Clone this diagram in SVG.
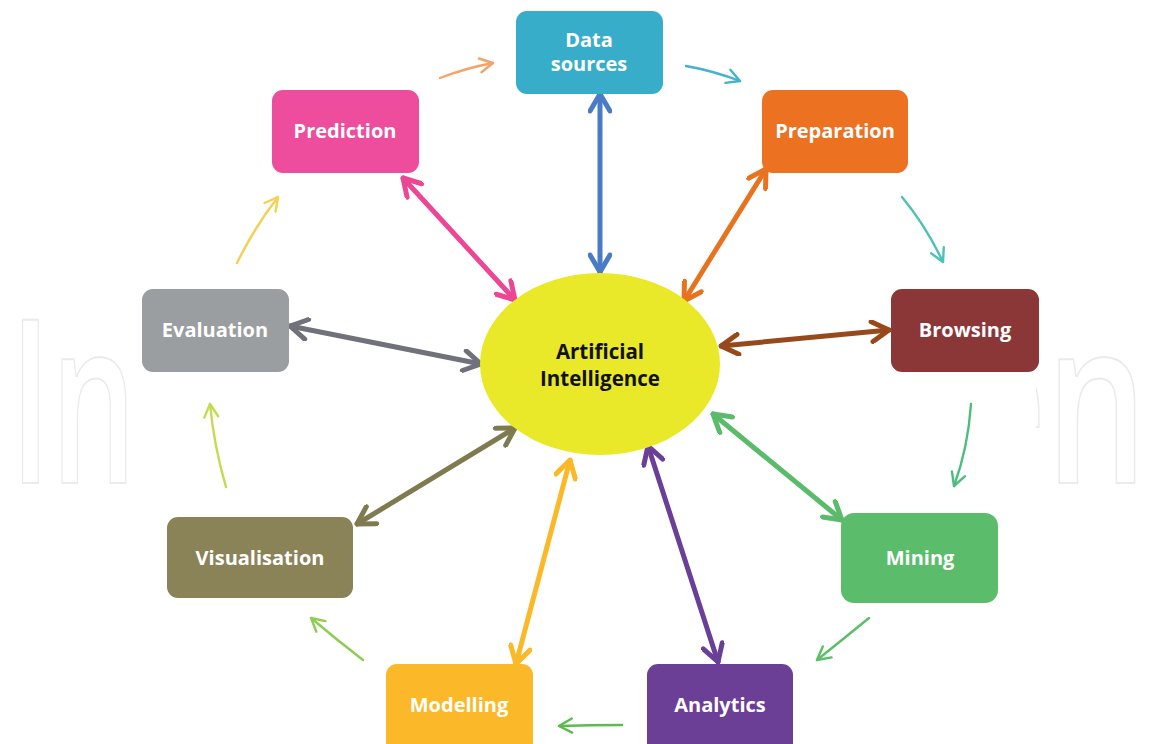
<svg xmlns="http://www.w3.org/2000/svg" width="1166" height="744" viewBox="0 0 1166 744">
<style>
.lbl{font-family:"Open Sans","Liberation Sans",sans-serif;font-weight:700;font-size:20px;fill:#ffffff;text-anchor:middle}
.ai{font-family:"Open Sans","Liberation Sans",sans-serif;font-weight:700;font-size:20.5px;fill:#111111;text-anchor:middle}
.thick{fill:none;stroke-width:5;stroke-linecap:round}
.thin{fill:none;stroke-width:2.4;stroke-linecap:round}
.wm{font-family:"Open Sans","Liberation Sans",sans-serif;font-weight:600;font-size:228px;fill:none;stroke:#ebebeb;stroke-width:2}
</style>
<defs>
<clipPath id="wmRight"><rect x="1036" y="300" width="130" height="200"/></clipPath>
<marker id="mBlue" viewBox="0 0 24 24" refX="22" refY="12" markerWidth="24" markerHeight="24" markerUnits="userSpaceOnUse" orient="auto-start-reverse"><path d="M5,2 L22,12 L5,22" fill="none" stroke="#4a7cc6" stroke-width="5" stroke-linecap="round" stroke-linejoin="round"/></marker>
<marker id="mPink" viewBox="0 0 24 24" refX="22" refY="12" markerWidth="24" markerHeight="24" markerUnits="userSpaceOnUse" orient="auto-start-reverse"><path d="M5,2 L22,12 L5,22" fill="none" stroke="#ec4694" stroke-width="5" stroke-linecap="round" stroke-linejoin="round"/></marker>
<marker id="mOrange" viewBox="0 0 24 24" refX="22" refY="12" markerWidth="24" markerHeight="24" markerUnits="userSpaceOnUse" orient="auto-start-reverse"><path d="M5,2 L22,12 L5,22" fill="none" stroke="#e8731f" stroke-width="5" stroke-linecap="round" stroke-linejoin="round"/></marker>
<marker id="mBrown" viewBox="0 0 24 24" refX="22" refY="12" markerWidth="24" markerHeight="24" markerUnits="userSpaceOnUse" orient="auto-start-reverse"><path d="M5,2 L22,12 L5,22" fill="none" stroke="#98491c" stroke-width="5" stroke-linecap="round" stroke-linejoin="round"/></marker>
<marker id="mGray" viewBox="0 0 24 24" refX="22" refY="12" markerWidth="24" markerHeight="24" markerUnits="userSpaceOnUse" orient="auto-start-reverse"><path d="M5,2 L22,12 L5,22" fill="none" stroke="#70717a" stroke-width="5" stroke-linecap="round" stroke-linejoin="round"/></marker>
<marker id="mGreen" viewBox="0 0 24 24" refX="22" refY="12" markerWidth="24" markerHeight="24" markerUnits="userSpaceOnUse" orient="auto-start-reverse"><path d="M5,2 L22,12 L5,22" fill="none" stroke="#5abb6a" stroke-width="5" stroke-linecap="round" stroke-linejoin="round"/></marker>
<marker id="mOlive" viewBox="0 0 24 24" refX="22" refY="12" markerWidth="24" markerHeight="24" markerUnits="userSpaceOnUse" orient="auto-start-reverse"><path d="M5,2 L22,12 L5,22" fill="none" stroke="#7f7a50" stroke-width="5" stroke-linecap="round" stroke-linejoin="round"/></marker>
<marker id="mGold" viewBox="0 0 24 24" refX="22" refY="12" markerWidth="24" markerHeight="24" markerUnits="userSpaceOnUse" orient="auto-start-reverse"><path d="M5,2 L22,12 L5,22" fill="none" stroke="#fbb829" stroke-width="5" stroke-linecap="round" stroke-linejoin="round"/></marker>
<marker id="mPurple" viewBox="0 0 24 24" refX="22" refY="12" markerWidth="24" markerHeight="24" markerUnits="userSpaceOnUse" orient="auto-start-reverse"><path d="M5,2 L22,12 L5,22" fill="none" stroke="#6a3f97" stroke-width="5" stroke-linecap="round" stroke-linejoin="round"/></marker>
<marker id="t1" viewBox="0 0 18 18" refX="16" refY="9" markerWidth="18" markerHeight="18" markerUnits="userSpaceOnUse" orient="auto"><path d="M3,2 L16,9 L3,16" fill="none" stroke="#f4a46a" stroke-width="2.4" stroke-linecap="round" stroke-linejoin="round"/></marker>
<marker id="t2" viewBox="0 0 18 18" refX="16" refY="9" markerWidth="18" markerHeight="18" markerUnits="userSpaceOnUse" orient="auto"><path d="M3,2 L16,9 L3,16" fill="none" stroke="#45b3ca" stroke-width="2.4" stroke-linecap="round" stroke-linejoin="round"/></marker>
<marker id="t3" viewBox="0 0 18 18" refX="16" refY="9" markerWidth="18" markerHeight="18" markerUnits="userSpaceOnUse" orient="auto"><path d="M3,2 L16,9 L3,16" fill="none" stroke="#4cc2b4" stroke-width="2.4" stroke-linecap="round" stroke-linejoin="round"/></marker>
<marker id="t4" viewBox="0 0 18 18" refX="16" refY="9" markerWidth="18" markerHeight="18" markerUnits="userSpaceOnUse" orient="auto"><path d="M3,2 L16,9 L3,16" fill="none" stroke="#4dbd7e" stroke-width="2.4" stroke-linecap="round" stroke-linejoin="round"/></marker>
<marker id="t5" viewBox="0 0 18 18" refX="16" refY="9" markerWidth="18" markerHeight="18" markerUnits="userSpaceOnUse" orient="auto"><path d="M3,2 L16,9 L3,16" fill="none" stroke="#5cbe68" stroke-width="2.4" stroke-linecap="round" stroke-linejoin="round"/></marker>
<marker id="t6" viewBox="0 0 18 18" refX="16" refY="9" markerWidth="18" markerHeight="18" markerUnits="userSpaceOnUse" orient="auto"><path d="M3,2 L16,9 L3,16" fill="none" stroke="#5dbb50" stroke-width="2.4" stroke-linecap="round" stroke-linejoin="round"/></marker>
<marker id="t7" viewBox="0 0 18 18" refX="16" refY="9" markerWidth="18" markerHeight="18" markerUnits="userSpaceOnUse" orient="auto"><path d="M3,2 L16,9 L3,16" fill="none" stroke="#8dcc55" stroke-width="2.4" stroke-linecap="round" stroke-linejoin="round"/></marker>
<marker id="t8" viewBox="0 0 18 18" refX="16" refY="9" markerWidth="18" markerHeight="18" markerUnits="userSpaceOnUse" orient="auto"><path d="M3,2 L16,9 L3,16" fill="none" stroke="#c3dc4e" stroke-width="2.4" stroke-linecap="round" stroke-linejoin="round"/></marker>
<marker id="t9" viewBox="0 0 18 18" refX="16" refY="9" markerWidth="18" markerHeight="18" markerUnits="userSpaceOnUse" orient="auto"><path d="M3,2 L16,9 L3,16" fill="none" stroke="#f2d155" stroke-width="2.4" stroke-linecap="round" stroke-linejoin="round"/></marker>
</defs>
<rect width="1166" height="744" fill="#ffffff"/>
<g id="watermark">
<text class="wm" x="10" y="483" textLength="126" lengthAdjust="spacingAndGlyphs">In</text>
<text class="wm" x="955" y="483" textLength="192" lengthAdjust="spacingAndGlyphs" clip-path="url(#wmRight)">en</text>
</g>

<g id="connectors">
<path class="thick" stroke="#4a7cc6" d="M600,94 L600,272" marker-start="url(#mBlue)" marker-end="url(#mBlue)"/>
<path class="thick" stroke="#ec4694" d="M403,178 L515,300" marker-start="url(#mPink)" marker-end="url(#mPink)"/>
<path class="thick" stroke="#e8731f" d="M766,169 L684,301" marker-start="url(#mOrange)" marker-end="url(#mOrange)"/>
<path class="thick" stroke="#98491c" d="M721,346 L889,330" marker-start="url(#mBrown)" marker-end="url(#mBrown)"/>
<path class="thick" stroke="#70717a" d="M290,326 L481,364" marker-start="url(#mGray)" marker-end="url(#mGray)"/>
<path class="thick" stroke="#5abb6a" d="M713,414 L842,520" marker-start="url(#mGreen)" marker-end="url(#mGreen)"/>
<path class="thick" stroke="#7f7a50" d="M515,428 L357,524" marker-start="url(#mOlive)" marker-end="url(#mOlive)"/>
<path class="thick" stroke="#fbb829" d="M570,460 L516,664" marker-start="url(#mGold)" marker-end="url(#mGold)"/>
<path class="thick" stroke="#6a3f97" d="M648,446 L718,662" marker-start="url(#mPurple)" marker-end="url(#mPurple)"/>

<path class="thin" stroke="#f4a46a" d="M440,78 Q466,68 493,63" marker-end="url(#t1)"/>
<path class="thin" stroke="#45b3ca" d="M686,66 Q714,71 740,81" marker-end="url(#t2)"/>
<path class="thin" stroke="#4cc2b4" d="M902,197 Q926,226 943,262" marker-end="url(#t3)"/>
<path class="thin" stroke="#4dbd7e" d="M971,404 Q968,448 954,486" marker-end="url(#t4)"/>
<path class="thin" stroke="#5cbe68" d="M869,618 Q842,640 817,660" marker-end="url(#t5)"/>
<path class="thin" stroke="#5dbb50" d="M622,725 Q590,725 559,726" marker-end="url(#t6)"/>
<path class="thin" stroke="#8dcc55" d="M363,660 Q337,640 311,618" marker-end="url(#t7)"/>
<path class="thin" stroke="#c3dc4e" d="M226,487 Q214,446 210,404" marker-end="url(#t8)"/>
<path class="thin" stroke="#f2d155" d="M237,263 Q254,228 278,197" marker-end="url(#t9)"/>
</g>

<g id="node-ai">
<ellipse cx="600" cy="364" rx="120" ry="91" fill="#e9e829"/>
<text class="ai" x="600" y="359">Artificial</text>
<text class="ai" x="600" y="386">Intelligence</text>
</g>
<g id="node-datasources">
<rect x="516" y="11" width="147" height="83" rx="11" fill="#38adc9"/>
<text class="lbl" x="589" y="47">Data</text>
<text class="lbl" x="589" y="71">sources</text>
</g>
<g id="node-prediction">
<rect x="272" y="90" width="147" height="83" rx="11" fill="#ee4c9c"/>
<text class="lbl" x="345" y="138">Prediction</text>
</g>
<g id="node-preparation">
<rect x="762" y="90" width="146" height="83" rx="11" fill="#ec7222"/>
<text class="lbl" x="835" y="138">Preparation</text>
</g>
<g id="node-evaluation">
<rect x="142" y="289" width="147" height="83" rx="11" fill="#9a9ea1"/>
<text class="lbl" x="215" y="337">Evaluation</text>
</g>
<g id="node-browsing">
<rect x="891" y="289" width="148" height="83" rx="11" fill="#8b3637"/>
<text class="lbl" x="965" y="337">Browsing</text>
</g>
<g id="node-visualisation">
<rect x="167" y="517" width="186" height="81" rx="11" fill="#8b8358"/>
<text class="lbl" x="260" y="565">Visualisation</text>
</g>
<g id="node-mining">
<rect x="841" y="513" width="157" height="90" rx="13" fill="#5bbd6b"/>
<text class="lbl" x="920" y="565">Mining</text>
</g>
<g id="node-modelling">
<rect x="386" y="664" width="147" height="95" rx="11" fill="#fbb829"/>
<text class="lbl" x="459" y="712">Modelling</text>
</g>
<g id="node-analytics">
<rect x="647" y="664" width="146" height="95" rx="11" fill="#6c3f96"/>
<text class="lbl" x="720" y="712">Analytics</text>
</g>
</svg>
